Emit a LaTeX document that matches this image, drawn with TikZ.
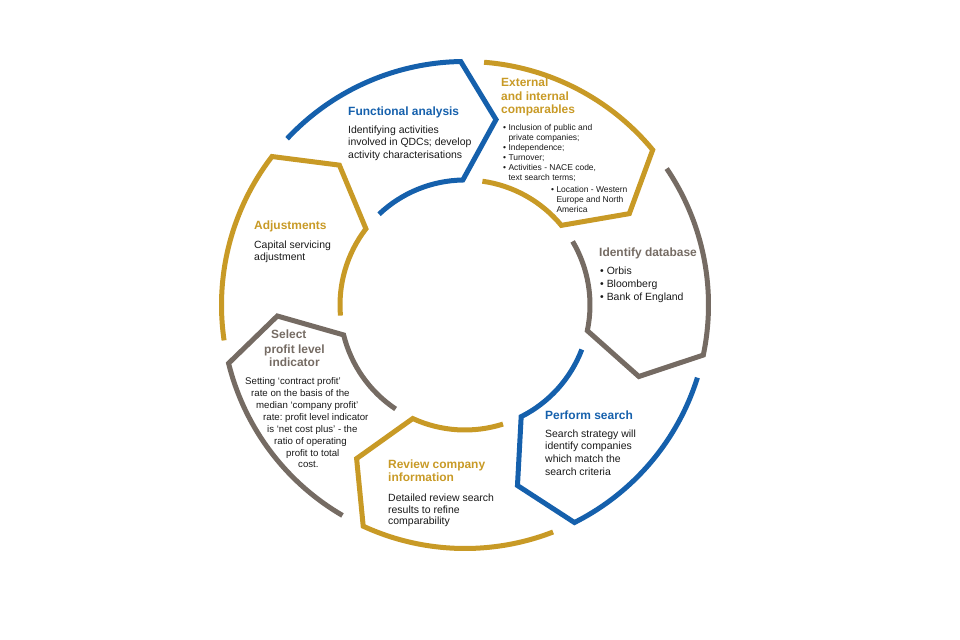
\documentclass[tikz,border=0pt]{standalone}
\usepackage{fontspec}
\setmainfont{Liberation Sans}
\frenchspacing
\definecolor{cblue}{RGB}{21,96,172}
\definecolor{cgold}{RGB}{200,154,38}
\definecolor{cgrey}{RGB}{117,107,99}
\definecolor{ctext}{RGB}{25,25,25}
\begin{document}
\begin{tikzpicture}[x=1bp,y=1bp,
  seg/.style={line width=5bp, draw=#1, line join=miter},
  ttl/.style={font=\fontsize{12}{14}\selectfont\bfseries, text=#1, anchor=base west, inner sep=0pt, align=left},
  body/.style={font=\fontsize{10.5}{12.7}\selectfont, text=ctext, anchor=base west, inner sep=0pt, align=left},
  small/.style={font=\fontsize{8.5}{10.2}\selectfont, text=ctext, anchor=base west, inner sep=0pt, align=left},
  sbody/.style={font=\fontsize{9.7}{12}\selectfont, text=ctext, anchor=base west, inner sep=0pt}]
\useasboundingbox (-465,-335) rectangle (495,305);
% ring segments: previous corner / corner / colour
\foreach \p/\c/\col in {142.43/91/cblue, 91/39.57/cgold, 39.57/-11.86/cgrey,
  -11.86/-63.29/cblue, -63.29/-114.71/cgold, -114.71/-166.14/cgrey, 193.86/142.43/cgold}{
  \draw[seg=\col] ({\p-5.5}:243.5bp) arc[start angle={\p-5.5}, end angle=\c, radius=243.5bp]
    -- ({\c-10.5}:188bp) -- (\c:125bp)
    arc[start angle=\c, end angle={\p-9}, radius=125bp];
}
% (multi-line nodes: base anchor = baseline of the last line)
% Functional analysis
\node[ttl=cblue, name=fa-t] at (-117,189) {Functional analysis};
\node[body, name=fa-b] at (-117,146.6) {Identifying activities\\involved in QDCs; develop\\activity characterisations};
% External and internal comparables
\node[ttl=cgold, name=ec-t] at (36,191) {External\\and internal\\comparables};
\node[small, name=ec-l] at (38,124) {•\ Inclusion of public and\\\phantom{•\ }private companies;\\•\ Independence;\\•\ Turnover;\\•\ Activities - NACE code,\\\phantom{•\ }text search terms;};
\node[small, name=ec-m] at (86,92.6) {•\ Location - Western\\\phantom{•\ }Europe and North\\\phantom{•\ }America};
% Identify database
\node[ttl=cgrey, name=id-t] at (134,48) {Identify database};
\node[body, name=id-b, font=\fontsize{10.5}{13.4}\selectfont] at (135,4.2) {•\ Orbis\\•\ Bloomberg\\•\ Bank of England};
% Perform search
\node[ttl=cblue, name=ps-t] at (80,-115) {Perform search};
\node[body, name=ps-b] at (80,-170.1) {Search strategy will\\identify companies\\which match the\\search criteria};
% Review company information
\node[ttl=cgold, name=rc-t] at (-77,-177) {Review company\\information};
\node[body, name=rc-b, font=\fontsize{10.5}{12}\selectfont] at (-77,-220) {Detailed review search\\results to refine\\comparability};
% Select profit level indicator
\node[ttl=cgrey, name=sp-t1] at (-194,-34) {Select};
\node[ttl=cgrey, name=sp-t2] at (-201,-49) {profit level};
\node[ttl=cgrey, name=sp-t3] at (-196,-62) {indicator};
\foreach \x/\y/\t [count=\i] in {-220/-79.5/{Setting ‘contract profit’},
  -214/-91.5/{rate on the basis of the}, -209/-103.5/{median ‘company profit’},
  -202/-115.5/{rate: profit level indicator}, -198/-127.5/{is ‘net cost plus’ - the},
  -191/-139.5/{ratio of operating}, -179/-151.5/{profit to total}, -167/-162.5/{cost.}}{
  \node[sbody, name=sp-b\i] at (\x,\y) {\t};
}
% Adjustments
\node[ttl=cgold, name=ad-t] at (-211,75) {Adjustments};
\node[body, name=ad-b] at (-211,44.3) {Capital servicing\\adjustment};
\end{tikzpicture}
\end{document}
